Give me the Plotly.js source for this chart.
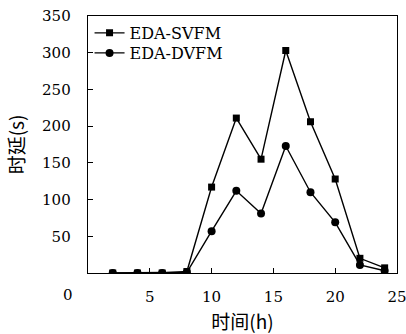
<!DOCTYPE html>
<html><head><meta charset="utf-8">
<script src="https://cdn.plot.ly/plotly-3.0.1.min.js"></script>
<style>html,body{margin:0;padding:0;background:#fff}#c{width:406px;height:334px}</style>
</head><body><div id="c"></div>
<script>
const hours = [2,4,6,8,10,12,14,16,18,20,22,24];
const svfm = [0,0,0,2,117,211,155,303,206,128,20,7];
const dvfm = [0,0,0,1,57,112,81,173,110,69,11,3];
const xTicks = [5,10,15,20,25];
const yTicks = [50,100,150,200,250,300,350];
const serif = "DejaVu Serif";
const cjk = "'Noto Sans CJK SC', sans-serif";
const traces = [
  {x: hours, y: svfm, name: 'EDA-SVFM', mode: 'lines+markers', legend: 'legend',
   line: {color: '#000', width: 1.4}, marker: {symbol: 'square', size: 7, color: '#000'}},
  {x: hours, y: dvfm, name: 'EDA-DVFM', mode: 'lines+markers', legend: 'legend2',
   line: {color: '#000', width: 1.4}, marker: {symbol: 'circle', size: 8, color: '#000'}}
];
const legFont = {family: serif, size: 16, color: '#000'};
const layout = {
  width: 406, height: 334,
  margin: {l: 88, r: 9, t: 16, b: 61},
  paper_bgcolor: '#fff', plot_bgcolor: '#fff',
  showlegend: true,
  legend: {x: 0.005, y: 0.934, xanchor: 'left', yanchor: 'middle', bgcolor: 'rgba(0,0,0,0)',
           font: legFont, itemwidth: 30},
  legend2: {x: 0.005, y: 0.856, xanchor: 'left', yanchor: 'middle', bgcolor: 'rgba(0,0,0,0)',
           font: legFont, itemwidth: 30},
  xaxis: {range: [0, 25], tickvals: xTicks, ticktext: xTicks.map(String),
          ticks: 'inside', ticklen: 5, tickcolor: '#000', showgrid: false, zeroline: false,
          showline: true, linecolor: '#000', linewidth: 1.3, mirror: true,
          ticklabelstandoff: 10, ticklabeloverflow: 'allow',
          tickfont: {family: serif, size: 15, color: '#000'},
          title: {text: '时间(h)', font: {family: cjk, size: 19, color: '#000'}, standoff: 10}},
  yaxis: {range: [0, 350], tickvals: yTicks, ticktext: yTicks.map(String),
          ticks: 'inside', ticklen: 5, tickcolor: '#000', showgrid: false, zeroline: false,
          showline: true, linecolor: '#000', linewidth: 1.3, mirror: true,
          ticklabelstandoff: 13, ticklabeloverflow: 'allow',
          tickfont: {family: serif, size: 15, color: '#000'},
          title: {text: '时延(s)', font: {family: cjk, size: 19, color: '#000'}, standoff: 12}},
  annotations: [{text: '0', xref: 'paper', yref: 'paper', x: 0, y: 0, xshift: -20, yshift: -22,
                 xanchor: 'center', yanchor: 'middle', showarrow: false,
                 font: {family: serif, size: 15, color: '#000'}}]
};
Plotly.newPlot('c', traces, layout, {displayModeBar: false, staticPlot: true});
</script></body></html>
